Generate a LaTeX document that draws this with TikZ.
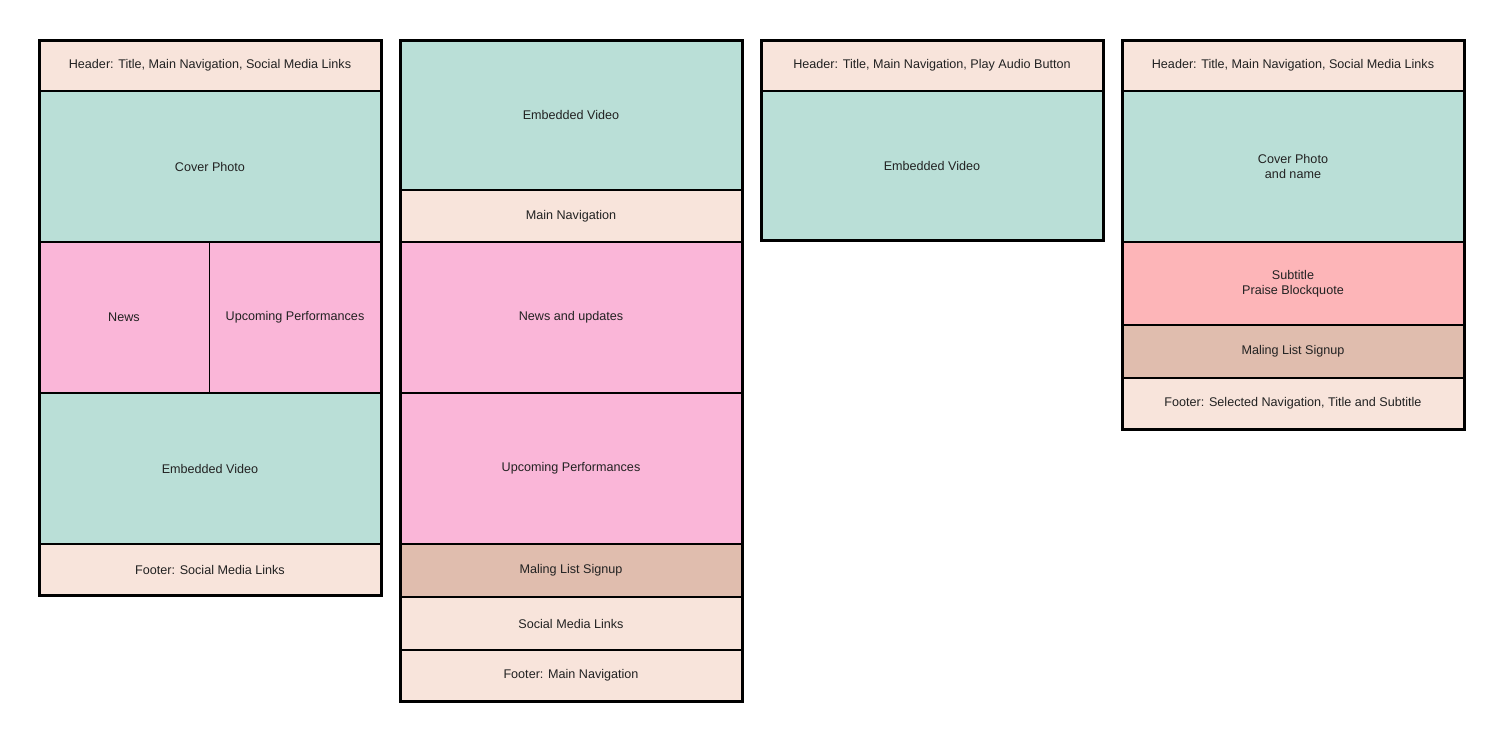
\documentclass[tikz,border=0pt]{standalone}
\usepackage{fontspec}
\setmainfont{Liberation Sans}
\usetikzlibrary{positioning}

\definecolor{hdrpeach}{HTML}{F8E4DB}
\definecolor{vidteal}{HTML}{BADFD7}
\definecolor{newspink}{HTML}{FAB6D8}
\definecolor{quotepink}{HTML}{FDB5B8}
\definecolor{signuptan}{HTML}{E0BDAE}
\definecolor{labelgrey}{HTML}{222222}

\tikzset{
  block/.style={draw=black, line width=1pt, minimum width=171pt, inner sep=0pt, outer sep=0pt,
    align=center, text=labelgrey, font=\fontsize{6.3}{7.5}\selectfont},
  halfblock/.style={block, line width=0.5pt},
  frame/.style={draw=black, line width=1.5pt}
}

\begin{document}
\begin{tikzpicture}[x=0.5pt, y=-0.5pt]
\useasboundingbox (0,0) rectangle (1500,740);

% home page
\node[block, fill=hdrpeach, minimum height=25.5pt, anchor=north west] (c1head) at (39,40) {Header: Title, Main Navigation, Social Media Links};
\node[block, fill=vidteal, minimum height=75.5pt, below=0pt of c1head] (c1cover) {Cover Photo};
\node[halfblock, fill=newspink, minimum height=75.5pt, minimum width=85pt, below right=0pt and 0pt of c1cover.south west] (c1news) {News};
\node[halfblock, fill=newspink, minimum height=75.5pt, minimum width=86pt, right=0pt of c1news] (c1gigs) {Upcoming Performances};
\node[block, fill=vidteal, minimum height=75.5pt, below right=0pt and 0pt of c1news.south west] (c1video) {Embedded Video};
\node[block, fill=hdrpeach, minimum height=25.5pt, below=0pt of c1video] (c1foot) {Footer: Social Media Links};
\draw[frame] (c1head.north west) rectangle (c1foot.south east);

% video landing page
\node[block, fill=vidteal, minimum height=75pt, anchor=north west] (c2video) at (400,40) {Embedded Video};
\node[block, fill=hdrpeach, minimum height=26pt, below=0pt of c2video] (c2nav) {Main Navigation};
\node[block, fill=newspink, minimum height=75.5pt, below=0pt of c2nav] (c2news) {News and updates};
\node[block, fill=newspink, minimum height=75.5pt, below=0pt of c2news] (c2gigs) {Upcoming Performances};
\node[block, fill=signuptan, minimum height=26.5pt, below=0pt of c2gigs] (c2signup) {Maling List Signup};
\node[block, fill=hdrpeach, minimum height=26.5pt, below=0pt of c2signup] (c2social) {Social Media Links};
\node[block, fill=hdrpeach, minimum height=25.5pt, below=0pt of c2social] (c2foot) {Footer: Main Navigation};
\draw[frame] (c2video.north west) rectangle (c2foot.south east);

% audio page
\node[block, fill=hdrpeach, minimum height=25.5pt, anchor=north west] (c3head) at (761,40) {Header: Title, Main Navigation, Play Audio Button};
\node[block, fill=vidteal, minimum height=74.5pt, below=0pt of c3head] (c3video) {Embedded Video};
\draw[frame] (c3head.north west) rectangle (c3video.south east);

% about page
\node[block, fill=hdrpeach, minimum height=25.5pt, anchor=north west] (c4head) at (1122,40) {Header: Title, Main Navigation, Social Media Links};
\node[block, fill=vidteal, minimum height=75.5pt, below=0pt of c4head] (c4cover) {Cover Photo\\and name};
\node[block, fill=quotepink, minimum height=41.5pt, below=0pt of c4cover] (c4quote) {Subtitle\\Praise Blockquote};
\node[block, fill=signuptan, minimum height=26.5pt, below=0pt of c4quote] (c4signup) {Maling List Signup};
\node[block, fill=hdrpeach, minimum height=25.5pt, below=0pt of c4signup] (c4foot) {Footer: Selected Navigation, Title and Subtitle};
\draw[frame] (c4head.north west) rectangle (c4foot.south east);
\end{tikzpicture}
\end{document}
